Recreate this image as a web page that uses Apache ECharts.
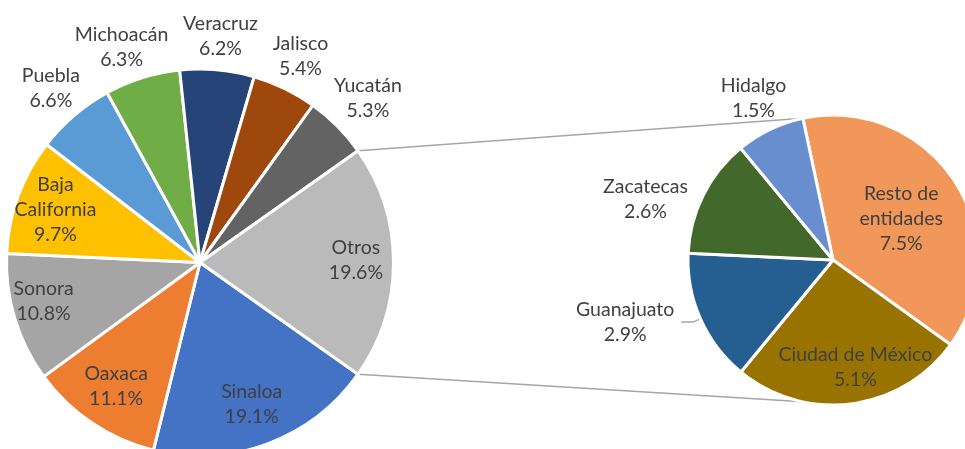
<!DOCTYPE html>
<html>
<head>
<meta charset="utf-8">
<script src="https://cdn.jsdelivr.net/npm/echarts@6/dist/echarts.min.js"></script>
<style>
  html, body { margin: 0; padding: 0; background: #fff; }
  #chart { width: 965px; height: 449px; }
</style>
</head>
<body>
<div id="chart"></div>
<script>
// main pie, clockwise starting at the lower edge of "Otros"
const mainNames = ['Sinaloa', 'Oaxaca', 'Sonora', 'Baja California', 'Puebla', 'Michoacán', 'Veracruz', 'Jalisco', 'Yucatán', 'Otros']
const mainValues = [19.1, 11.1, 10.8, 9.7, 6.6, 6.3, 6.2, 5.4, 5.3, 19.6]
// breakdown of "Otros", clockwise
const subNames = ['Resto de entidades', 'Ciudad de México', 'Guanajuato', 'Zacatecas', 'Hidalgo']
const subValues = [7.5, 5.1, 2.9, 2.6, 1.5]

const mainColors = ['#4472C4', '#ED7D31', '#A5A5A5', '#FFC000', '#5B9BD5', '#70AD47', '#264478', '#9E480E', '#636363', '#BABABA']
const subColors = ['#F1975A', '#997300', '#255E91', '#43682B', '#698ED0']

const textColor = '#404040'
const font = { fontFamily: 'Lato', fontSize: 19.5, lineHeight: 25, color: textColor }
const lineColor = '#A6A6A6'

const mainCenter = [200, 262.5]
const mainR = 193.5
const subCenter = [833, 260]
const subR = 145
const subStart = 102

const labelText = { 'Baja California': 'Baja\nCalifornia', 'Resto de entidades': 'Resto de\nentidades' }
const labelOf = (name, value) => (labelText[name] || name) + '\n' + value.toFixed(1) + '%'

const mainTotal = mainValues.reduce((a, b) => a + b, 0)
const otrosHalf = mainValues[mainValues.length - 1] / mainTotal * 180
const mainStart = -otrosHalf

// which labels sit inside / outside each pie
const mainInside = ['Sinaloa', 'Oaxaca', 'Sonora', 'Baja California', 'Otros']
const mainOutside = ['Puebla', 'Michoacán', 'Veracruz', 'Jalisco', 'Yucatán']
const subInside = ['Resto de entidades', 'Ciudad de México']
const subOutside = ['Hidalgo', 'Zacatecas']
const nudge = {
  'Sinaloa': [-2, -3], 'Oaxaca': [2, -4], 'Sonora': [-9, -6], 'Michoacán': [-10, 4], 'Yucatán': [5, -3], 'Otros': [2, -2],
  'Veracruz': [0, 2], 'Hidalgo': [0, 3],
  'Resto de entidades': [-12, 11], 'Ciudad de México': [10, 12], 'Zacatecas': [-24, 21],
}

function toData(names, values, colors) {
  return names.map((n, i) => ({ name: n, value: values[i], itemStyle: colors ? { color: colors[i] } : undefined }))
}

// transparent ring used only to place labels at (r0 + r1) / 2
function labelRing(center, r0, r1, names, values, start, shown) {
  return {
    type: 'pie',
    center,
    radius: [r0, r1],
    startAngle: start,
    silent: true,
    avoidLabelOverlap: false,
    z: 5,
    itemStyle: { color: 'rgba(0,0,0,0)', borderWidth: 0 },
    label: {
      show: true,
      position: 'inside',
      ...font,
      formatter: p => shown.includes(p.name) ? labelOf(p.name, p.value) : '',
    },
    labelLine: { show: false },
    labelLayout: p => {
      const d = nudge[names[p.dataIndex]]
      return d ? { dx: d[0], dy: d[1] } : {}
    },
    emphasis: { disabled: true },
    data: toData(names, values),
  }
}

const subData = toData(subNames, subValues, subColors).map(d => {
  if (d.name !== 'Guanajuato') return d
  return {
    ...d,
    label: {
      show: true,
      position: 'outside',
      distanceToLabelLine: 4,
      formatter: p => '{t|' + p.name + '}\n{t|' + p.value.toFixed(1) + '%}',
      rich: { t: { ...font, width: 104, align: 'center' } },
    },
    labelLine: { show: true, length: 8, length2: 12, lineStyle: { color: lineColor, width: 1.5 } },
  }
})

const a = otrosHalf * Math.PI / 180
const tilt = 12 * Math.PI / 180
const mainTop = [mainCenter[0] + mainR * Math.cos(a), mainCenter[1] - mainR * Math.sin(a)]
const mainBottom = [mainCenter[0] + mainR * Math.cos(a), mainCenter[1] + mainR * Math.sin(a)]
const subTop = [subCenter[0] - subR * Math.sin(tilt), subCenter[1] - subR * Math.cos(tilt)]
const subBottom = [subCenter[0] - subR * Math.sin(tilt), subCenter[1] + subR * Math.cos(tilt)]

const chart = echarts.init(document.getElementById('chart'))
chart.setOption({
  animation: false,
  backgroundColor: '#fff',
  graphic: [
    { type: 'line', shape: { x1: mainTop[0], y1: mainTop[1], x2: subTop[0], y2: subTop[1] }, style: { stroke: lineColor, lineWidth: 1.5 } },
    { type: 'line', shape: { x1: mainBottom[0], y1: mainBottom[1], x2: subBottom[0], y2: subBottom[1] }, style: { stroke: lineColor, lineWidth: 1.5 } },
  ],
  series: [
    {
      type: 'pie',
      center: mainCenter,
      radius: [0, mainR],
      startAngle: mainStart,
      silent: true,
      itemStyle: { borderColor: '#fff', borderWidth: 3 },
      label: { show: false },
      labelLine: { show: false },
      data: toData(mainNames, mainValues, mainColors),
    },
    {
      type: 'pie',
      center: subCenter,
      radius: [0, subR],
      startAngle: subStart,
      silent: true,
      itemStyle: { borderColor: '#fff', borderWidth: 3 },
      label: { show: false },
      labelLine: { show: false },
      data: subData,
    },
    labelRing(mainCenter, mainR * 0.56, mainR, mainNames, mainValues, mainStart, mainInside),
    labelRing(mainCenter, mainR, mainR * 1.34, mainNames, mainValues, mainStart, mainOutside),
    labelRing(subCenter, subR * 0.28, subR, subNames, subValues, subStart, subInside),
    labelRing(subCenter, subR, subR * 1.48, subNames, subValues, subStart, subOutside),
  ],
})
</script>
</body>
</html>
